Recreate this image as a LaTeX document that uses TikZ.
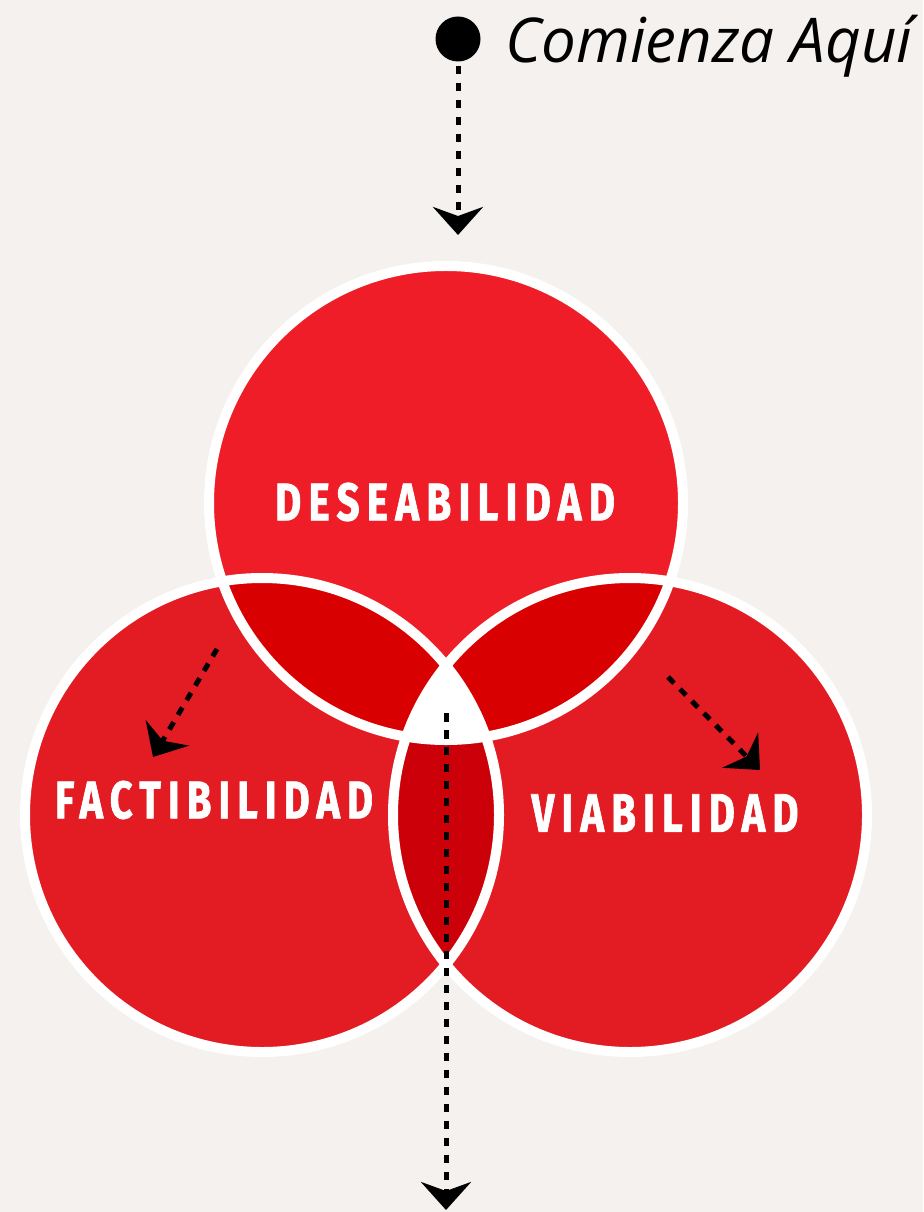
\documentclass[tikz,border=0pt]{standalone}
\usepackage{graphicx}
\usepackage{fontspec}
\usetikzlibrary{arrows.meta}
\newfontfamily\labelfont{Fira Sans}[LetterSpace=18, BoldFeatures={FakeBold=1.6}]
\newfontfamily\startfont{Open Sans}
\definecolor{paper}{HTML}{F4F1EE}
\definecolor{topred}{HTML}{EE1D27}
\definecolor{sidered}{HTML}{E31B23}
\definecolor{lensdark}{HTML}{D80000}
\definecolor{lenslow}{HTML}{CC0008}
% fit a label into a box of given width and cap height
\newcommand{\venlabel}[2]{\resizebox{#1}{0.75cm}{\labelfont\bfseries #2}}

\begin{document}
\begin{tikzpicture}[x=0.02cm, y=-0.02cm,
	flow/.style={line width=0.1cm, dash pattern=on 0.17cm off 0.17cm, -{Stealth[length=0.56cm, width=1cm, inset=0.18cm]}},
	ring/.style={draw=white, line width=0.2cm}]
	\useasboundingbox (0,0) rectangle (923,1212);
	\fill[paper] (0,0) rectangle (923,1212);
	
	\coordinate (des) at (446, 503);
	\coordinate (fac) at (262, 815);
	\coordinate (via) at (630, 815);
	\coordinate (toptip) at (458, 235);
	\coordinate (midstart) at (446, 713);
	\coordinate (midtip) at (446, 1210);
	\coordinate (facstart) at (217, 649);
	\coordinate (factip) at (153, 757);
	\coordinate (viastart) at (668, 677);
	\coordinate (viatip) at (760, 770);
	
	% Circles
	\fill[topred] (des) circle (237);
	\fill[sidered] (fac) circle (237);
	\fill[sidered] (via) circle (237);
	
	% Overlaps
	\begin{scope}
		\clip (des) circle (237);
		\fill[lensdark] (fac) circle (237);
		\fill[lensdark] (via) circle (237);
	\end{scope}
	\begin{scope}
		\clip (fac) circle (237);
		\fill[lenslow] (via) circle (237);
	\end{scope}
	\begin{scope}
		\clip (des) circle (237);
		\clip (fac) circle (237);
		\fill[white] (via) circle (237);
	\end{scope}
	
	% White rings
	\draw[ring] (des) circle (237);
	\draw[ring] (fac) circle (237);
	\draw[ring] (via) circle (237);
	
	% Labels
	\node[white, inner sep=0pt] (deslbl) at (445, 502) {\venlabel{6.8cm}{DESEABILIDAD}};
	\node[white, inner sep=0pt] (faclbl) at (214, 800) {\venlabel{6.36cm}{FACTIBILIDAD}};
	\node[white, inner sep=0pt] (vialbl) at (665, 813) {\venlabel{5.34cm}{VIABILIDAD}};
	
	% Start
	\node[circle, fill=black, minimum size=0.9cm, inner sep=0pt] (start) at (458, 39) {};
	\node[anchor=base west, inner sep=0pt] (startlbl) at (505, 63) {\resizebox{8.14cm}{!}{\startfont\itshape Comienza Aquí}};
	
	% Dotted paths
	\draw[flow] (start.south) ++(0,4) -- (toptip);
	\draw[flow] (midstart) -- (midtip);
	\draw[flow] (facstart) -- (factip);
	\draw[flow] (viastart) -- (viatip);
\end{tikzpicture}
\end{document}
